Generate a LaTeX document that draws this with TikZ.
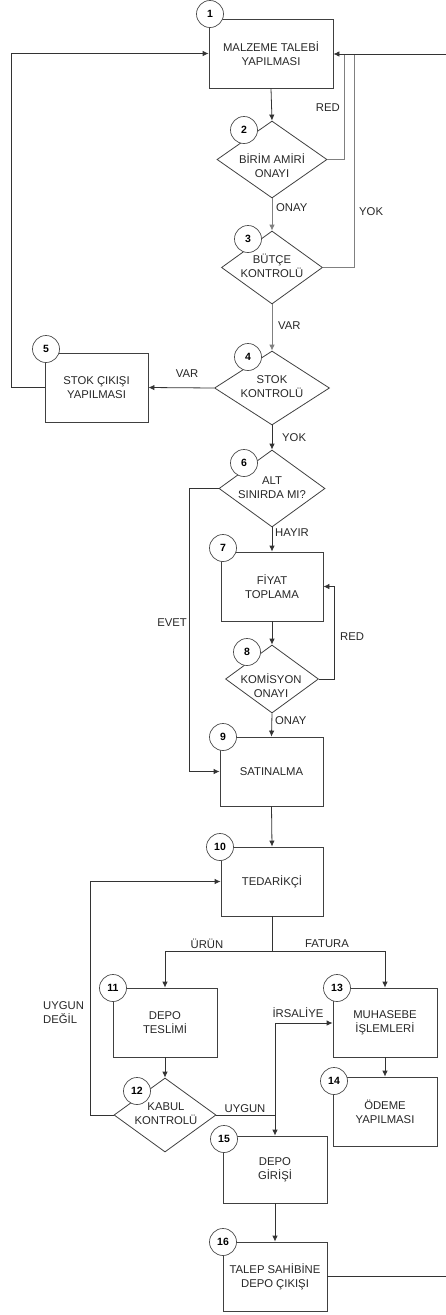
\documentclass[tikz,border=0pt]{standalone}
\usepackage{fontspec}
\setmainfont{Liberation Sans}
\usetikzlibrary{shapes.geometric,arrows.meta}
\tikzset{
  box/.style={draw=black!75, line width=0.8pt, minimum width=103pt, minimum height=69pt, inner sep=0pt, align=center, font=\fontsize{11.3}{14}\selectfont, text=black!85},
  dia/.style={diamond, draw=black!75, line width=0.8pt, inner sep=0pt},
  txt/.style={inner sep=0pt, align=center, font=\fontsize{11.3}{14}\selectfont, text=black!85},
  lbl/.style={inner sep=0pt, align=left, font=\fontsize{11.3}{14}\selectfont, text=black!85},
  circ/.style={circle, draw=black!70, line width=0.7pt, fill=white, minimum size=27pt, inner sep=0pt, font=\fontsize{10.5}{12}\selectfont\bfseries},
  conn/.style={draw=black!80, line width=0.8pt},
  gconn/.style={draw=black!50, line width=0.8pt},
  arr/.style={-{Latex[length=6pt,width=5.5pt]}},
}
\begin{document}
\begin{tikzpicture}[x=1pt,y=-1pt]
\useasboundingbox (0,0) rectangle (446,1315);

% boxes
\node[box, minimum width=124pt] (b1) at (271,53.5) {MALZEME TALEBİ\\YAPILMASI};
\node[box] (b5) at (96.5,387.5) {STOK ÇIKIŞI\\YAPILMASI};
\node[box, minimum width=102pt] (b7) at (272,586.5) {FİYAT\\TOPLAMA};
\node[box] (b9) at (271.5,771.5) {SATINALMA};
\node[box, minimum width=102pt] (b10) at (272,881.5) {TEDARİKÇİ};
\node[box, minimum width=104pt] (b11) at (165,1022.5) {DEPO\\TESLİMİ};
\node[box, minimum width=104pt] (b13) at (385,1022.5) {MUHASEBE\\İŞLEMLERİ};
\node[box, minimum width=104pt] (b14) at (385,1111.5) {ÖDEME\\YAPILMASI};
\node[box, minimum width=104pt, minimum height=67pt] (b15) at (275,1169.5) {DEPO\\GİRİŞİ};
\node[box, minimum width=104pt] (b16) at (275,1276.5) {TALEP SAHİBİNE\\DEPO ÇIKIŞI};

% diamonds
\node[dia, minimum width=110pt, minimum height=77pt] (d2) at (272,159.5) {};
\node[txt] (t2) at (272,166) {BİRİM AMİRİ\\ONAYI};
\node[dia, minimum width=101pt, minimum height=73pt] (d3) at (272,267.5) {};
\node[txt] (t3) at (272,266) {BÜTÇE\\KONTROLÜ};
\node[dia, minimum width=115pt, minimum height=74pt] (d4) at (272,388) {};
\node[txt] (t4) at (272,387) {STOK\\KONTROLÜ};
\node[dia, minimum width=106pt, minimum height=77pt] (d6) at (272,488.5) {};
\node[txt] (t6) at (272,488) {ALT\\SINIRDA MI?};
\node[dia, minimum width=93pt, minimum height=68pt] (d8) at (272,679) {};
\node[txt] (t8) at (271,686) {KOMİSYON\\ONAYI};
\node[dia, minimum width=102pt, minimum height=74pt] (d12) at (165,1115) {};
\node[txt] (t12) at (166,1114) {KABUL\\KONTROLÜ};

% free ends
\coordinate (rin) at (446,54);
\coordinate (rout) at (446,1276.5);
\coordinate (irs) at (275,1023);
\coordinate (split) at (272,951);

% connectors
\draw[conn,arr] (b1.south) -- (d2.north);
\draw[gconn] (d2.east) -| (344,54);
\draw[gconn] (d3.east) -| (354,54);
\draw[conn,arr] (rin) -- (rin -| b1.east);
\draw[gconn,arr] (d2.south) -- (d3.north);
\draw[gconn,arr] (d3.south) -- (d4.north);
\draw[conn,arr] (d4.west) -- (b5.east);
\draw[conn,arr] (b5.west) -- ++(-33,0) |- (b1.west);
\draw[conn,arr] (d4.south) -- (d6.north);
\draw[conn,arr] (d6.west) -- ++(-29,0) |- (b9.west);
\draw[conn,arr] (d6.south) -- (b7.north);
\draw[conn,arr] (b7.south) -- (d8.north);
\draw[conn,arr] (d8.east) -- ++(15,0) |- (b7.east);
\draw[conn,arr] (d8.south) -- (b9.north);
\draw[conn,arr] (b9.south) -- (b10.north);
\draw[conn] (b10.south) -- (split);
\draw[conn,arr] (split) -| (b11.north);
\draw[conn,arr] (split) -| (b13.north);
\draw[conn,arr] (b11.south) -- (d12.north);
\draw[conn,arr] (d12.west) -- ++(-23,0) |- (b10.west);
\draw[conn] (d12.east) -- (d12.east -| irs);
\draw[conn,arr] (irs) -- (irs -| b13.west);
\draw[conn,arr] (irs) -- (b15.north);
\draw[conn,arr] (b13.south) -- (b14.north);
\draw[conn,arr] (b15.south) -- (b16.north);
\draw[conn] (b16.east) -- (rout);

% labels
\node[lbl, anchor=east] (l1) at (340,108) {RED};
\node[lbl, anchor=west] (l2) at (276,208) {ONAY};
\node[lbl, anchor=west] (l3) at (359,212) {YOK};
\node[lbl, anchor=west] (l4) at (278,326) {VAR};
\node[lbl] (l5) at (187,374) {VAR};
\node[lbl, anchor=west] (l6) at (282,438) {YOK};
\node[lbl, anchor=west] (l7) at (275,533) {HAYIR};
\node[lbl, anchor=east] (l8) at (187,623) {EVET};
\node[lbl, anchor=west] (l9) at (340,637) {RED};
\node[lbl, anchor=west] (l10) at (275,721) {ONAY};
\node[lbl] (l11) at (207,944) {ÜRÜN};
\node[lbl] (l12) at (327,944) {FATURA};
\node[lbl, anchor=west] (l13) at (43,1013) {UYGUN\\DEĞİL};
\node[lbl] (l14) at (298,1013) {İRSALİYE};
\node[lbl] (l15) at (245,1109) {UYGUN};

% number circles
\node[circ] (c1) at (210,14) {1};
\node[circ] (c2) at (244,130) {2};
\node[circ] (c3) at (248,239) {3};
\node[circ] (c4) at (248,357) {4};
\node[circ] (c5) at (46,349) {5};
\node[circ] (c6) at (244,463) {6};
\node[circ] (c7) at (223,548) {7};
\node[circ] (c8) at (247,652) {8};
\node[circ] (c9) at (223,737) {9};
\node[circ] (c10) at (220,847) {10};
\node[circ] (c11) at (113,988) {11};
\node[circ] (c12) at (137,1091) {12};
\node[circ] (c13) at (337,988) {13};
\node[circ] (c14) at (334,1081) {14};
\node[circ] (c15) at (224,1139) {15};
\node[circ] (c16) at (223,1242) {16};
\end{tikzpicture}
\end{document}
